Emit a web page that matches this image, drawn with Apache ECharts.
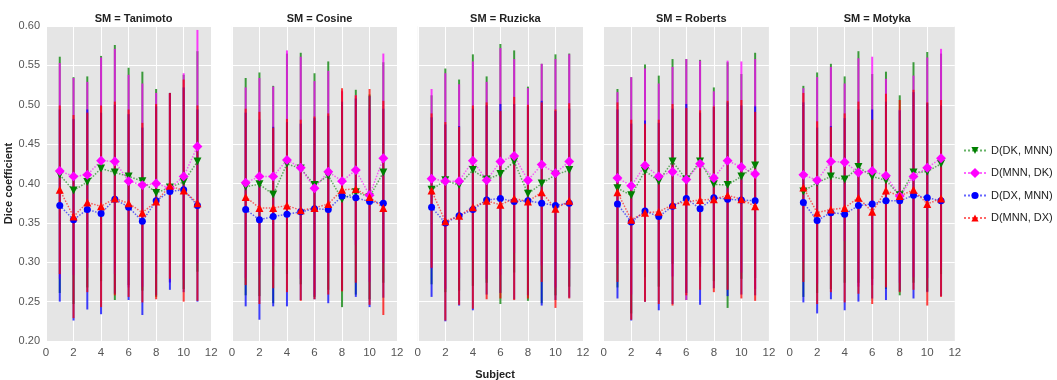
<!DOCTYPE html>
<html>
<head>
<meta charset="utf-8">
<script src="https://cdn.jsdelivr.net/npm/echarts@6/dist/echarts.min.js"></script>
<style>
  html, body { margin: 0; padding: 0; background: #fff; }
  #chart { width: 1057px; height: 380px; }
</style>
</head>
<body>
<div id="chart"></div>
<script>
var subjects = [1, 2, 3, 4, 5, 6, 7, 8, 9, 10, 11];
var panels = ['Tanimoto', 'Cosine', 'Ruzicka', 'Roberts', 'Motyka'];
var seriesNames = ['D(DK, MNN)', 'D(MNN, DK)', 'D(DX, MNN)', 'D(MNN, DX)'];
var yTicks = [0.20, 0.25, 0.30, 0.35, 0.40, 0.45, 0.50, 0.55, 0.60];

// mean dice per subject and half-width of the error bar
var tanimotoDkMnn = [0.411, 0.391, 0.402, 0.419, 0.414, 0.409, 0.403, 0.388, 0.395, 0.402, 0.428];
var tanimotoDkMnnErr = [0.150, 0.144, 0.134, 0.143, 0.162, 0.138, 0.139, 0.132, 0.120, 0.136, 0.140];
var tanimotoMnnDk = [0.416, 0.409, 0.411, 0.429, 0.428, 0.403, 0.398, 0.400, 0.394, 0.409, 0.447];
var tanimotoMnnDkErr = [0.137, 0.125, 0.118, 0.131, 0.143, 0.135, 0.129, 0.115, 0.120, 0.131, 0.148];
var tanimotoDxMnn = [0.372, 0.354, 0.367, 0.362, 0.380, 0.370, 0.352, 0.378, 0.390, 0.392, 0.372];
var tanimotoDxMnnErr = [0.122, 0.128, 0.127, 0.128, 0.120, 0.118, 0.119, 0.120, 0.125, 0.130, 0.122];
var tanimotoMnnDx = [0.392, 0.358, 0.376, 0.371, 0.381, 0.375, 0.363, 0.377, 0.397, 0.391, 0.375];
var tanimotoMnnDxErr = [0.107, 0.129, 0.114, 0.128, 0.123, 0.119, 0.114, 0.124, 0.118, 0.141, 0.124];

var cosineDkMnn = [0.396, 0.399, 0.386, 0.425, 0.419, 0.398, 0.410, 0.380, 0.389, 0.383, 0.414];
var cosineDkMnnErr = [0.138, 0.142, 0.138, 0.140, 0.147, 0.142, 0.145, 0.137, 0.130, 0.130, 0.140];
var cosineMnnDk = [0.401, 0.409, 0.409, 0.430, 0.420, 0.394, 0.415, 0.403, 0.417, 0.385, 0.432];
var cosineMnnDkErr = [0.121, 0.125, 0.114, 0.139, 0.141, 0.136, 0.128, 0.115, 0.095, 0.110, 0.133];
var cosineDxMnn = [0.367, 0.354, 0.358, 0.361, 0.364, 0.368, 0.367, 0.384, 0.382, 0.377, 0.375];
var cosineDxMnnErr = [0.123, 0.127, 0.114, 0.117, 0.112, 0.115, 0.119, 0.120, 0.126, 0.134, 0.120];
var cosineMnnDx = [0.383, 0.369, 0.369, 0.372, 0.366, 0.369, 0.374, 0.392, 0.393, 0.383, 0.369];
var cosineMnnDxErr = [0.112, 0.122, 0.102, 0.110, 0.115, 0.116, 0.115, 0.129, 0.119, 0.137, 0.136];

var ruzickaDkMnn = [0.392, 0.404, 0.398, 0.417, 0.405, 0.412, 0.428, 0.387, 0.400, 0.411, 0.417];
var ruzickaDkMnnErr = [0.120, 0.142, 0.134, 0.147, 0.131, 0.165, 0.141, 0.136, 0.152, 0.153, 0.148];
var ruzickaMnnDk = [0.406, 0.403, 0.403, 0.429, 0.404, 0.428, 0.435, 0.404, 0.424, 0.413, 0.428];
var ruzickaMnnDkErr = [0.114, 0.137, 0.123, 0.126, 0.125, 0.144, 0.123, 0.117, 0.128, 0.145, 0.136];
var ruzickaDxMnn = [0.370, 0.350, 0.359, 0.367, 0.379, 0.381, 0.377, 0.378, 0.375, 0.372, 0.375];
var ruzickaDxMnnErr = [0.114, 0.125, 0.114, 0.128, 0.120, 0.120, 0.124, 0.120, 0.130, 0.120, 0.120];
var ruzickaMnnDx = [0.391, 0.352, 0.359, 0.370, 0.378, 0.373, 0.381, 0.377, 0.389, 0.368, 0.378];
var ruzickaMnnDxErr = [0.098, 0.126, 0.113, 0.129, 0.125, 0.119, 0.129, 0.123, 0.114, 0.126, 0.124];

var robertsDkMnn = [0.394, 0.385, 0.416, 0.403, 0.428, 0.405, 0.428, 0.399, 0.398, 0.409, 0.423];
var robertsDkMnnErr = [0.126, 0.150, 0.135, 0.134, 0.130, 0.153, 0.129, 0.123, 0.156, 0.130, 0.143];
var robertsMnnDk = [0.407, 0.397, 0.423, 0.409, 0.415, 0.405, 0.425, 0.407, 0.429, 0.421, 0.412];
var robertsMnnDkErr = [0.109, 0.138, 0.123, 0.118, 0.133, 0.153, 0.131, 0.110, 0.127, 0.134, 0.146];
var robertsDxMnn = [0.374, 0.351, 0.365, 0.358, 0.371, 0.381, 0.368, 0.382, 0.380, 0.379, 0.378];
var robertsDxMnnErr = [0.120, 0.125, 0.115, 0.119, 0.124, 0.120, 0.122, 0.115, 0.123, 0.120, 0.120];
var robertsMnnDx = [0.389, 0.354, 0.363, 0.364, 0.373, 0.377, 0.379, 0.380, 0.385, 0.380, 0.371];
var robertsMnnDxErr = [0.114, 0.127, 0.113, 0.117, 0.128, 0.119, 0.114, 0.118, 0.120, 0.126, 0.120];

var motykaDkMnn = [0.390, 0.401, 0.409, 0.405, 0.421, 0.409, 0.404, 0.385, 0.414, 0.415, 0.425];
var motykaDkMnnErr = [0.134, 0.140, 0.143, 0.131, 0.147, 0.130, 0.138, 0.127, 0.140, 0.152, 0.140];
var motykaMnnDk = [0.411, 0.404, 0.428, 0.427, 0.414, 0.416, 0.410, 0.384, 0.409, 0.420, 0.432];
var motykaMnnDkErr = [0.110, 0.131, 0.120, 0.100, 0.145, 0.145, 0.123, 0.110, 0.128, 0.140, 0.139];
var motykaDxMnn = [0.376, 0.353, 0.363, 0.361, 0.372, 0.374, 0.378, 0.378, 0.385, 0.382, 0.378];
var motykaDxMnnErr = [0.127, 0.118, 0.110, 0.122, 0.122, 0.120, 0.126, 0.115, 0.131, 0.120, 0.121];
var motykaMnnDx = [0.395, 0.363, 0.367, 0.369, 0.382, 0.364, 0.391, 0.384, 0.392, 0.374, 0.381];
var motykaMnnDxErr = [0.120, 0.116, 0.105, 0.120, 0.122, 0.117, 0.123, 0.122, 0.127, 0.129, 0.125];

// [panel][series] -> [means, errs]
var table = [
    [[tanimotoDkMnn, tanimotoDkMnnErr], [tanimotoMnnDk, tanimotoMnnDkErr], [tanimotoDxMnn, tanimotoDxMnnErr], [tanimotoMnnDx, tanimotoMnnDxErr]],
    [[cosineDkMnn, cosineDkMnnErr], [cosineMnnDk, cosineMnnDkErr], [cosineDxMnn, cosineDxMnnErr], [cosineMnnDx, cosineMnnDxErr]],
    [[ruzickaDkMnn, ruzickaDkMnnErr], [ruzickaMnnDk, ruzickaMnnDkErr], [ruzickaDxMnn, ruzickaDxMnnErr], [ruzickaMnnDx, ruzickaMnnDxErr]],
    [[robertsDkMnn, robertsDkMnnErr], [robertsMnnDk, robertsMnnDkErr], [robertsDxMnn, robertsDxMnnErr], [robertsMnnDx, robertsMnnDxErr]],
    [[motykaDkMnn, motykaDkMnnErr], [motykaMnnDk, motykaMnnDkErr], [motykaDxMnn, motykaDxMnnErr], [motykaMnnDx, motykaMnnDxErr]]
];

var colors = ['#008000', '#ff00ff', '#0000ff', '#ff0000'];
var symbols = ['triangle', 'rect', 'circle', 'triangle'];
var symbolRotates = [180, 45, 0, 0];
var symbolSizes = [8, 7, 7, 8];

var FONT = '"Liberation Sans", Arial, sans-serif';
var gridLeft = 46, gridTop = 26, gridW = 165.2, gridH = 315, gridStep = 185.9;

function errorBarItem(params, api) {
    var x = api.value(0);
    var lo = api.coord([x, api.value(1)]);
    var hi = api.coord([x, api.value(2)]);
    return {
        type: 'line',
        shape: { x1: lo[0], y1: lo[1], x2: hi[0], y2: hi[1] },
        style: { stroke: api.visual('color'), lineWidth: 2, opacity: 0.75 }
    };
}

var grids = [], xAxes = [], yAxes = [], titles = [], lines = [], bars = [];

panels.forEach(function(p, i) {
    var left = gridLeft + i * gridStep;
    grids.push({ left: left, top: gridTop, width: gridW, height: gridH, show: true, backgroundColor: '#e5e5e5', borderWidth: 0 });
    titles.push({
        text: 'SM = ' + p,
        left: left + gridW / 2,
        top: 8,
        textAlign: 'center',
        textStyle: { fontFamily: FONT, fontSize: 11, fontWeight: 'bold', color: '#222' }
    });
    xAxes.push({
        gridIndex: i, type: 'value', min: 0, max: 12, interval: 2,
        axisLine: { show: false }, axisTick: { show: false },
        axisLabel: { fontFamily: FONT, fontSize: 11.5, color: '#555', margin: 6 },
        splitLine: { show: true, lineStyle: { color: '#fff', width: 1 } }
    });
    yAxes.push({
        gridIndex: i, type: 'value', min: yTicks[0], max: yTicks[yTicks.length - 1], interval: 0.05,
        axisLine: { show: false }, axisTick: { show: false },
        axisLabel: {
            show: i === 0, fontFamily: FONT, fontSize: 11, color: '#555', margin: 6,
            formatter: function(v) { return v.toFixed(2); }
        },
        splitLine: { show: true, lineStyle: { color: '#fff', width: 1 } },
        name: i === 0 ? 'Dice coefficient' : '',
        nameLocation: 'middle', nameRotate: 90, nameGap: 28,
        nameTextStyle: { fontFamily: FONT, fontSize: 11, fontWeight: 'bold', color: '#222' }
    });

    table[i].forEach(function(pair, k) {
        var means = pair[0], errs = pair[1];
        lines.push({
            name: seriesNames[k], type: 'line', xAxisIndex: i, yAxisIndex: i, z: 3,
            data: subjects.map(function(s, j) { return [s, means[j]]; }),
            symbol: symbols[k], symbolRotate: symbolRotates[k], symbolSize: symbolSizes[k],
            itemStyle: { color: colors[k] },
            lineStyle: { type: 'dotted', width: 1.5, opacity: 0.6, color: colors[k] },
            emphasis: { disabled: true }
        });
        bars.push({
            name: seriesNames[k], type: 'custom', xAxisIndex: i, yAxisIndex: i, z: 2,
            renderItem: errorBarItem,
            itemStyle: { color: colors[k] },
            encode: { x: 0, y: [1, 2] },
            data: subjects.map(function(s, j) { return [s, means[j] - errs[j], means[j] + errs[j]]; })
        });
    });
});

titles.push({
    text: 'Subject',
    left: 490,
    top: 364,
    textAlign: 'center',
    textStyle: { fontFamily: FONT, fontSize: 11, fontWeight: 'bold', color: '#222' }
});

var chart = echarts.init(document.getElementById('chart'), null, { renderer: 'canvas' });
chart.setOption({
    animation: false,
    title: titles,
    grid: grids,
    xAxis: xAxes,
    yAxis: yAxes,
    legend: {
        data: seriesNames,
        orient: 'vertical',
        left: 963,
        top: 145,
        padding: 0,
        itemWidth: 22,
        itemHeight: 9,
        itemGap: 11.5,
        textStyle: { fontFamily: FONT, fontSize: 11, color: '#222' }
    },
    series: lines.concat(bars)
});
</script>
</body>
</html>
